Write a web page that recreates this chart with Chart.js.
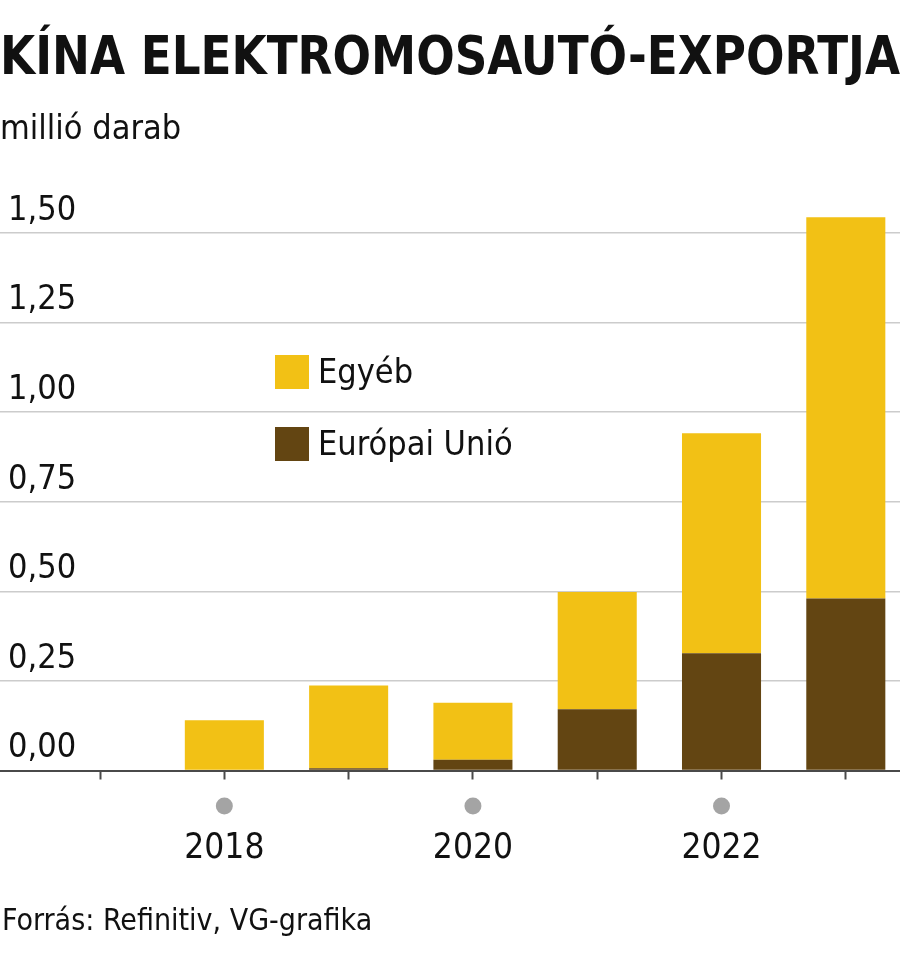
<!DOCTYPE html>
<html lang="hu">
<head>
<meta charset="utf-8">
<title>Kína elektromosautó-exportja</title>
<script src="https://cdn.jsdelivr.net/npm/chart.js@4.4.1/dist/chart.umd.min.js"></script>
<style>
  html, body { margin: 0; padding: 0; background: #fff; }
  #wrap { width: 900px; height: 954px; }
</style>
</head>
<body>
<div id="wrap"><canvas id="grafikon" width="900" height="954"></canvas></div>
<script>
// adatok (millió darab)
const evek = [2018, 2019, 2020, 2021, 2022, 2023];
const euAdat = [0, 0.006, 0.030, 0.171, 0.327, 0.480];
const egyebAdat = [0.140, 0.231, 0.159, 0.327, 0.614, 1.064];
const feliratosEvek = [2018, 2020, 2022];

const SARGA = "#f2c115";
const BARNA = "#634512";
const BETU = "'DejaVu Sans Condensed', 'Liberation Sans Narrow', 'Liberation Sans', sans-serif";

// ====================
// Saját rajzolás: pöttyök, jelmagyarázat, forrás
// ====================
const extrak = {
    id: "extrak",
    afterDraw(chart) {
        const ctx = chart.ctx;
        const x = chart.scales.x;
        ctx.save();

        // szürke pöttyök a feliratozott évek alatt
        ctx.fillStyle = "#a4a4a4";
        feliratosEvek.forEach(ev => {
            ctx.beginPath();
            ctx.arc(x.getPixelForValue(ev), x.top + 35.5, 8.5, 0, Math.PI * 2);
            ctx.fill();
        });

        // jelmagyarázat (fordított sorrend: Egyéb felül)
        const tetelek = chart.data.datasets.slice().reverse();
        ctx.font = "34px " + BETU;
        ctx.textBaseline = "middle";
        ctx.textAlign = "left";
        tetelek.forEach((ds, i) => {
            const top = 355 + i * 72;
            ctx.fillStyle = ds.backgroundColor;
            ctx.fillRect(275, top, 34, 34);
            ctx.fillStyle = "#111";
            ctx.fillText(ds.label, 318, top + 19);
        });

        // forrás
        ctx.font = "30px " + BETU;
        ctx.textBaseline = "alphabetic";
        ctx.fillStyle = "#111";
        ctx.fillText("Forrás: Refinitiv, VG-grafika", 2, 930);
        ctx.restore();
    }
};

new Chart(document.getElementById("grafikon"), {
    type: "bar",
    data: {
        datasets: [
            {
                label: "Európai Unió",
                data: evek.map((ev, i) => ({ x: ev, y: euAdat[i] })),
                backgroundColor: BARNA
            },
            {
                label: "Egyéb",
                data: evek.map((ev, i) => ({ x: ev, y: egyebAdat[i] })),
                backgroundColor: SARGA
            }
        ]
    },
    options: {
        responsive: false,
        animation: false,
        events: [],
        barPercentage: 0.636,
        categoryPercentage: 1,
        layout: { padding: { top: 0, bottom: 35.5, left: 0, right: 0 } },
        plugins: {
            legend: { display: false },
            tooltip: { enabled: false },
            title: {
                display: true,
                text: "KÍNA ELEKTROMOSAUTÓ-EXPORTJA",
                align: "start",
                color: "#111",
                font: { family: BETU, size: 53, weight: "bold" },
                padding: { top: 28, bottom: 0 }
            },
            subtitle: {
                display: true,
                text: "millió darab",
                align: "start",
                color: "#111",
                font: { family: BETU, size: 34 },
                padding: { top: 18.2, bottom: 46.6 }
            }
        },
        scales: {
            x: {
                type: "linear",
                stacked: true,
                offset: false,
                min: 2016.195,
                max: 2023.436,
                grid: {
                    offset: false,
                    drawOnChartArea: false,
                    drawTicks: true,
                    tickLength: 9,
                    tickColor: "#4a4a4a",
                    tickWidth: 2
                },
                border: { display: true, color: "#4a4a4a", width: 2 },
                ticks: {
                    stepSize: 1,
                    includeBounds: false,
                    autoSkip: false,
                    maxRotation: 0,
                    padding: 48.5,
                    color: "#111",
                    font: { family: BETU, size: 35 },
                    callback: v => feliratosEvek.includes(v) ? String(v) : ""
                }
            },
            y: {
                stacked: true,
                min: 0,
                max: 1.6,
                afterFit: s => { s.width = 0; },
                grid: {
                    drawTicks: false,
                    lineWidth: 1.5,
                    color: c => c.tick && c.tick.value === 0 ? "rgba(0,0,0,0)" : "#cccccc"
                },
                border: { display: false },
                ticks: {
                    stepSize: 0.25,
                    includeBounds: false,
                    mirror: true,
                    padding: 8,
                    labelOffset: -22,
                    color: "#111",
                    font: { family: BETU, size: 34 },
                    callback: v => v.toFixed(2).replace(".", ",")
                }
            }
        }
    },
    plugins: [extrak]
});
</script>
</body>
</html>
